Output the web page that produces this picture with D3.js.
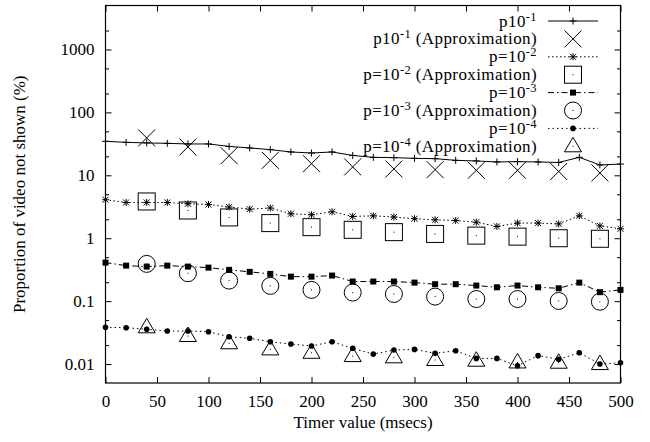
<!DOCTYPE html>
<html><head><meta charset="utf-8">
<script src="https://cdn.jsdelivr.net/npm/d3@7"></script>
<style>
body{margin:0;background:#fff;}
svg text{fill:#000;}
</style></head>
<body><svg id="chart" width="650" height="442"></svg>
<script>
// ---- data ----
const timerSim = [0,20,40,60,80,100,120,140,160,180,200,220,240,260,280,300,320,340,360,380,400,420,440,460,480,500];
const timerApprox = [40,80,120,160,200,240,280,320,360,400,440,480];

const sim1 = [34.7,33.4,32.7,32.2,31.5,31.5,28.8,27.2,25.6,23.5,22.6,23.5,20.7,19.3,19.1,18.6,18.4,17.3,16.9,16.3,16.5,16.3,16.0,19.3,14.6,15.1];
const approx1 = [39.3,28.2,20.5,17.3,15.3,13.6,12.6,12.3,12.0,12.0,11.5,10.9];

const sim2 = [4.09,3.70,3.70,3.70,3.53,3.44,3.13,2.90,3.02,2.45,2.36,2.63,2.22,2.27,2.17,2.04,1.96,1.91,1.80,1.54,1.74,1.74,1.69,2.27,1.57,1.41];
const approx2 = [3.84,2.76,2.14,1.74,1.50,1.36,1.25,1.17,1.10,1.06,1.00,0.98];

const sim3 = [0.410,0.367,0.354,0.367,0.354,0.341,0.314,0.292,0.271,0.245,0.245,0.255,0.205,0.205,0.205,0.197,0.186,0.186,0.177,0.166,0.177,0.166,0.160,0.197,0.139,0.151];
const approx3 = [0.391,0.278,0.212,0.175,0.151,0.137,0.130,0.118,0.108,0.108,0.1007,0.098];

const sim4 = [0.0384,0.0378,0.0357,0.0335,0.0335,0.0327,0.0272,0.0257,0.0226,0.0208,0.0194,0.0226,0.0178,0.0144,0.0167,0.0171,0.0148,0.0163,0.0123,0.0123,0.0094,0.0136,0.0119,0.0151,0.0100,0.0105];
const approx4 = [0.0384,0.0279,0.0214,0.0171,0.0151,0.0134,0.0128,0.0116,0.0113,0.0106,0.0105,0.0100];

const xTicks = [0,50,100,150,200,250,300,350,400,450,500];
const yTicks = [0.01,0.1,1,10,100,1000];
const yTickLabels = ["0.01","0.1","1","10","100","1000"];
const yMinor = [0.005,0.02,0.05,0.2,0.5,2,5,20,50,200,500,2000,5000];

const legendLabels = [
  ["p10","-1",""],["p10","-1"," (Approximation)"],
  ["p=10","-2",""],["p=10","-2"," (Approximation)"],
  ["p=10","-3",""],["p=10","-3"," (Approximation)"],
  ["p=10","-4",""],["p=10","-4"," (Approximation)"]
];

// ---- layout ----
const L = 105.5, R = 620.5, T = 5.5, B = 383;
const FONT = '"Liberation Serif", "Times New Roman", serif';
const svg = d3.select("#chart");
const x = d3.scaleLinear().domain([0,500]).range([L,R]);
const y = d3.scaleLog().domain([0.005,5000]).range([B,T]);
const FS = 17, LFS = 17, SFS = 12.5;

svg.append("rect").attr("x",L).attr("y",T).attr("width",R-L).attr("height",B-T)
  .attr("fill","none").attr("stroke","#000").attr("stroke-width",1.2);

function axisG(axis, tx, ty){
  const g = svg.append("g").attr("transform",`translate(${tx},${ty})`).call(axis);
  g.attr("font-family",null).attr("font-size",null);
  g.select(".domain").remove();
  g.selectAll("line").attr("stroke","#000").attr("stroke-width",1);
  g.selectAll("text").style("font-size",FS+"px").style("font-family",FONT);
  return g;
}
axisG(d3.axisBottom(x).tickValues(xTicks).tickSize(-6).tickPadding(12).tickFormat(d3.format("d")),0,B);
axisG(d3.axisTop(x).tickValues(xTicks).tickSize(-6).tickFormat(""),0,T);
axisG(d3.axisLeft(y).tickValues(yTicks).tickSize(-6).tickPadding(11).tickFormat((d,i)=>yTickLabels[i]),L,0);
axisG(d3.axisRight(y).tickValues(yTicks).tickSize(-6).tickFormat(""),R,0);
axisG(d3.axisLeft(y).tickValues(yMinor.filter(v=>y(v)>T+1&&y(v)<B-1)).tickSize(-3.5).tickFormat(""),L,0);
axisG(d3.axisRight(y).tickValues(yMinor.filter(v=>y(v)>T+1&&y(v)<B-1)).tickSize(-3.5).tickFormat(""),R,0);

svg.append("text").attr("x",(L+R)/2).attr("y",428).attr("text-anchor","middle")
  .style("font-size",FS+"px").style("font-family",FONT).text("Timer value (msecs)");
svg.append("text").attr("transform",`translate(25,${(T+B)/2}) rotate(-90)`).attr("text-anchor","middle")
  .style("font-size",FS+"px").style("font-family",FONT).text("Proportion of video not shown (%)");

function marker(g, type, cx, cy){
  const s = "#000";
  if(type==="plus"){
    g.append("path").attr("d",`M${cx-3.5},${cy}H${cx+3.5}M${cx},${cy-3.5}V${cy+3.5}`).attr("stroke",s).attr("stroke-width",1);
  } else if(type==="star"){
    g.append("path").attr("d",`M${cx-3.5},${cy}H${cx+3.5}M${cx},${cy-3.5}V${cy+3.5}M${cx-3},${cy-3}L${cx+3},${cy+3}M${cx-3},${cy+3}L${cx+3},${cy-3}`).attr("stroke",s).attr("stroke-width",1);
  } else if(type==="fsquare"){
    g.append("rect").attr("x",cx-3).attr("y",cy-3).attr("width",6).attr("height",6).attr("fill",s);
  } else if(type==="fcircle"){
    g.append("circle").attr("cx",cx).attr("cy",cy).attr("r",2.8).attr("fill",s);
  } else if(type==="cross"){
    g.append("path").attr("d",`M${cx-8.5},${cy-8.5}L${cx+8.5},${cy+8.5}M${cx-8.5},${cy+8.5}L${cx+8.5},${cy-8.5}`).attr("stroke",s).attr("stroke-width",1);
  } else {
    if(type==="osquare"){
      g.append("rect").attr("x",cx-8.5).attr("y",cy-8.5).attr("width",17).attr("height",17).attr("fill","none").attr("stroke",s).attr("stroke-width",1);
    } else if(type==="ocircle"){
      g.append("circle").attr("cx",cx).attr("cy",cy).attr("r",8.5).attr("fill","none").attr("stroke",s).attr("stroke-width",1);
    } else if(type==="otri"){
      g.append("path").attr("d",`M${cx},${cy-9}L${cx+8.5},${cy+5.5}L${cx-8.5},${cy+5.5}Z`).attr("fill","none").attr("stroke",s).attr("stroke-width",1);
    }
    g.append("rect").attr("x",cx-0.5).attr("y",cy-0.5).attr("width",1).attr("height",1).attr("fill",s);
  }
}

const simSeries = [
  {vals:sim1, m:"plus", dash:null},
  {vals:sim2, m:"star", dash:"1.5,2.5"},
  {vals:sim3, m:"fsquare", dash:"6,3,1.5,3"},
  {vals:sim4, m:"fcircle", dash:"1.5,3"}
];
const apxSeries = [
  {vals:approx1, m:"cross"},
  {vals:approx2, m:"osquare"},
  {vals:approx3, m:"ocircle"},
  {vals:approx4, m:"otri"}
];

const line = d3.line().x(d=>x(d[0])).y(d=>y(d[1]));
const plot = svg.append("g");
simSeries.forEach((s,i)=>{
  const pts = timerSim.map((t,j)=>[t,s.vals[j]]);
  const p = plot.append("path").attr("d",line(pts)).attr("fill","none").attr("stroke","#000").attr("stroke-width",1);
  if(s.dash) p.attr("stroke-dasharray",s.dash);
  const g = plot.append("g");
  pts.forEach(d=>marker(g,s.m,x(d[0]),y(d[1])));
  const a = apxSeries[i];
  const ga = plot.append("g");
  timerApprox.forEach((t,j)=>marker(ga,a.m,x(t),y(a.vals[j])));
});

const lg = svg.append("g");
const textX = 537, sL = 548, sR = 598, sM = 573;
legendLabels.forEach((lab,i)=>{
  const cy = 21 + i*17.9;
  const t = lg.append("text").attr("x",textX).attr("y",cy+5.5).attr("text-anchor","end")
    .style("font-size",LFS+"px").style("font-family",FONT).style("letter-spacing","0.4px");
  t.append("tspan").text(lab[0]);
  t.append("tspan").attr("dy",-6).style("font-size",SFS+"px").text(lab[1]);
  if(lab[2]) t.append("tspan").attr("dy",6).style("font-size",LFS+"px").text(lab[2]);
  const k = Math.floor(i/2);
  if(i%2===0){
    const p = lg.append("line").attr("x1",sL).attr("x2",sR).attr("y1",cy).attr("y2",cy).attr("stroke","#000").attr("stroke-width",1);
    if(simSeries[k].dash) p.attr("stroke-dasharray",simSeries[k].dash);
    marker(lg,simSeries[k].m,sM,cy);
  } else {
    marker(lg,apxSeries[k].m,sM,cy);
  }
});
</script></body></html>
